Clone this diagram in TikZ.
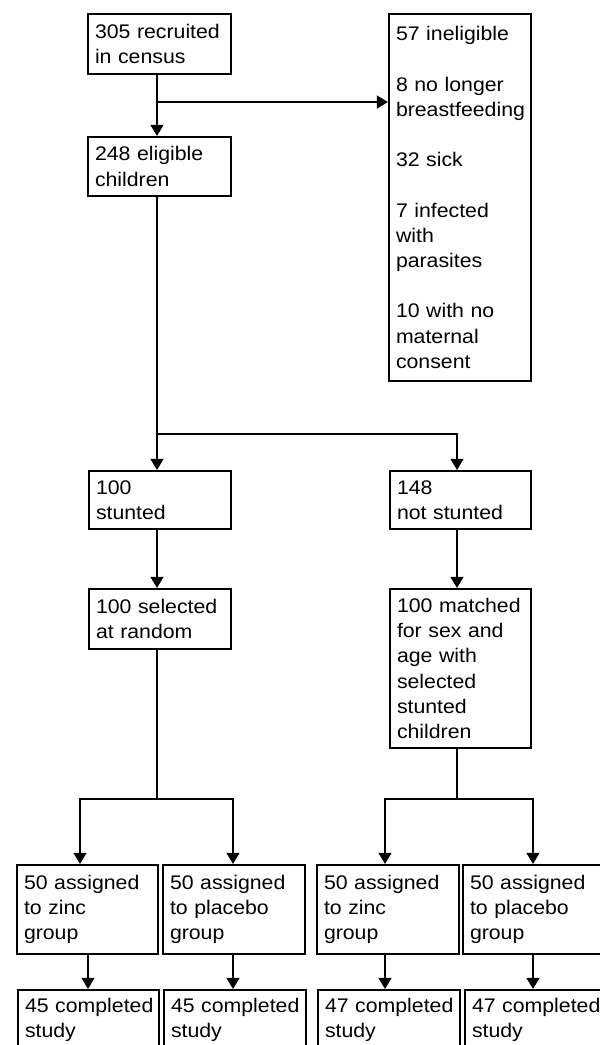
\documentclass[tikz,border=0pt]{standalone}
\usepackage{fontspec}
\setmainfont{Liberation Sans}[FakeStretch=1.08]
\usetikzlibrary{arrows.meta}
\hyphenpenalty=10000
\exhyphenpenalty=10000
\begin{document}
\begin{tikzpicture}[x=1pt,y=-1pt,
  box/.style={draw, line width=2.2pt, align=left, inner xsep=7pt, inner ysep=0pt,
    font=\fontsize{19.7}{25.2}\selectfont},
  con/.style={line width=1.2pt},
  arr/.style={con, -{Triangle[width=13pt,length=11pt]}}]
\clip (0,0) rectangle (600,1045);
\fill[white] (0,0) rectangle (600,1045);
% boxes
\node[box, text width=129pt, minimum height=60pt] (b305) at (159.5,44) {305~recruited\\in~census};
\node[box, text width=129pt, minimum height=59pt] (b248) at (159.5,166.5) {248~eligible\\children};
\node[box, text width=128pt, minimum height=367pt] (binel) at (460,197.5) {57~ineligible\\[25.2pt]8~no~longer\\breastfeeding\\[25.2pt]32~sick\\[25.2pt]7~infected\\with\\parasites\\[25.2pt]10~with~no\\maternal\\consent};
\node[box, text width=128pt, minimum height=58pt] (bst) at (160,500) {100\\stunted};
\node[box, text width=127pt, minimum height=58pt] (bnst) at (460.5,500) {148\\not~stunted};
\node[box, text width=128pt, minimum height=60pt] (bsel) at (160,619) {100~selected\\at~random};
\node[box, text width=127pt, minimum height=159pt] (bmat) at (460.5,668.5) {100~matched\\for~sex~and\\age~with\\selected\\stunted\\children};
\node[box, text width=127pt, minimum height=89pt] (r1a) at (87.5,909.5) {50~assigned\\to~zinc\\group};
\node[box, text width=128pt, minimum height=89pt] (r1b) at (234,909.5) {50~assigned\\to~placebo\\group};
\node[box, text width=128pt, minimum height=89pt] (r1c) at (388,909.5) {50~assigned\\to~zinc\\group};
\node[box, text width=128pt, minimum height=89pt] (r1d) at (534,909.5) {50~assigned\\to~placebo\\group};
\node[box, text width=127pt, minimum height=60pt] (r2a) at (88.5,1020) {45~completed\\study};
\node[box, text width=128pt, minimum height=60pt] (r2b) at (235,1020) {45~completed\\study};
\node[box, text width=128pt, minimum height=60pt] (r2c) at (389,1020) {47~completed\\study};
\node[box, text width=128pt, minimum height=60pt] (r2d) at (536,1020) {47~completed\\study};
% junction coordinates
\coordinate (j1) at (157,102);
\coordinate (j2) at (157,434);
\coordinate (j2r) at (457,434);
\coordinate (j3) at (157,799);
\coordinate (j4) at (457,799);
\coordinate (a1) at (80,799);
\coordinate (b1) at (233,799);
\coordinate (c1) at (385,799);
\coordinate (d1) at (533,799);
\coordinate (a2) at (88,0);
\coordinate (b2) at (233,0);
\coordinate (c2) at (385,0);
\coordinate (d2) at (533,0);
% connectors
\draw[arr] (b305.south -| j1) -- (b248.north -| j1);
\draw[arr] (j1) -- (j1 -| binel.west);
\draw[arr] (b248.south -| j2) -- (bst.north -| j2);
\draw[arr] (j2) -- (j2r) -- (bnst.north -| j2r);
\draw[arr] (bst.south -| j2) -- (bsel.north -| j2);
\draw[arr] (bnst.south -| j2r) -- (bmat.north -| j2r);
\draw[con] (bsel.south -| j3) -- (j3);
\draw[arr] (j3) -- (a1) -- (a1 |- r1a.north);
\draw[arr] (j3) -- (b1) -- (b1 |- r1b.north);
\draw[con] (bmat.south -| j4) -- (j4);
\draw[arr] (j4) -- (c1) -- (c1 |- r1c.north);
\draw[arr] (j4) -- (d1) -- (d1 |- r1d.north);
\draw[arr] (a2 |- r1a.south) -- (a2 |- r2a.north);
\draw[arr] (b2 |- r1b.south) -- (b2 |- r2b.north);
\draw[arr] (c2 |- r1c.south) -- (c2 |- r2c.north);
\draw[arr] (d2 |- r1d.south) -- (d2 |- r2d.north);
\end{tikzpicture}
\end{document}
